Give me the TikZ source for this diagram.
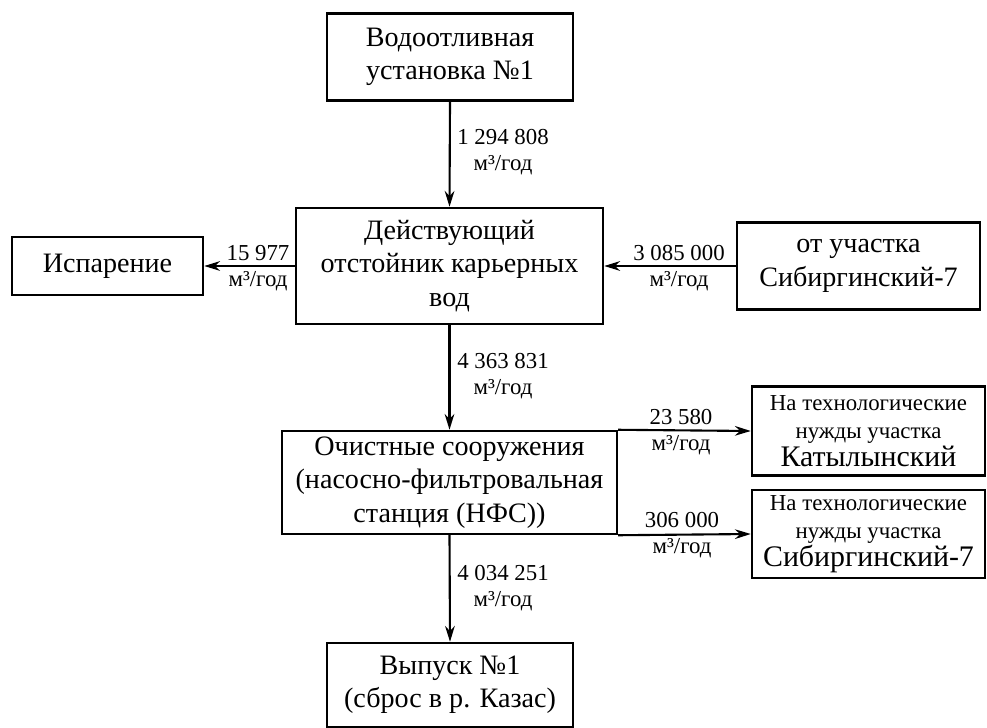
\documentclass[tikz,border=0pt]{standalone}
\usepackage{fontspec}
\setmainfont{Liberation Serif}
\usepackage{tikz}
\usetikzlibrary{arrows.meta, positioning}

\begin{document}
\begin{tikzpicture}[
  x=0.02cm, y=-0.02cm,
  arrow/.style={-{Stealth[length=9pt, width=5.5pt]}, line width=1.2pt},
  block_box/.style={draw, rectangle, line width=1.4pt, inner sep=2pt, align=center, font=\fontsize{16}{19}\selectfont},
  side_box/.style={draw, rectangle, line width=1.4pt, inner sep=1pt, align=center, minimum width=233*0.02cm, font=\fontsize{13}{16}\selectfont},
  flow_label/.style={align=center, inner sep=0pt, font=\fontsize{13}{15}\selectfont}
]
  \useasboundingbox (0,0) rectangle (987,727);

  % Boxes (placed at pixel coordinates of the scheme)
  \node (ust1) [block_box, minimum width=246*0.02cm, minimum height=87*0.02cm] at (450, 57) {Водоотливная\\ установка №1};
  \node (otst) [block_box, minimum width=307*0.02cm, minimum height=116*0.02cm] at (449.5, 266) {Действующий\\ отстойник карьерных\\ вод};
  \node (isp) [block_box, minimum width=191*0.02cm, minimum height=58*0.02cm] at (107.5, 266) {Испарение};
  \node (sib) [block_box, minimum width=243*0.02cm, minimum height=87*0.02cm] at (858.5, 266) {от участка\\ Сибиргинский-7};
  \node (nfs) [block_box, minimum width=335*0.02cm, minimum height=103*0.02cm] at (449.5, 482.5) {Очистные сооружения\\ (насосно-фильтровальная\\ станция (НФС))};
  \node (kat) [side_box, minimum height=89*0.02cm] at (868.5, 431) {На технологические\\ нужды участка\\ {\fontsize{17}{18}\selectfont Катылынский}};
  \node (sib7) [side_box, minimum height=88*0.02cm] at (868.5, 534) {На технологические\\ нужды участка\\ {\fontsize{17}{18}\selectfont Сибиргинский-7}};
  \node (vyp) [block_box, minimum width=246*0.02cm, minimum height=84*0.02cm] at (450, 685) {Выпуск №1\\ (сброс в р. Казас)};

  % Flow values
  \node (q1) [flow_label] at (503, 152) {1 294 808\\ м³/год};
  \node (q2) [flow_label] at (258, 268) {15 977\\ м³/год};
  \node (q3) [flow_label] at (679, 268) {3 085 000\\ м³/год};
  \node (q4) [flow_label] at (503, 376) {4 363 831\\ м³/год};
  \node (q5) [flow_label] at (681, 432) {23 580\\ м³/год};
  \node (q6) [flow_label] at (682, 535) {306 000\\ м³/год};
  \node (q7) [flow_label] at (503, 588) {4 034 251\\ м³/год};

  % Connections
  \draw[arrow] (ust1.south) -- (otst.north);
  \draw[arrow] (otst.west) -- (isp.east);
  \draw[arrow] (sib.west) -- (otst.east);
  \draw[arrow] (otst.south) -- (nfs.north);
  \draw[arrow] (nfs.north east) -- (kat.west);
  \draw[arrow] (nfs.south east) -- (sib7.west);
  \draw[arrow] (nfs.south) -- (vyp.north);

\end{tikzpicture}
\end{document}
